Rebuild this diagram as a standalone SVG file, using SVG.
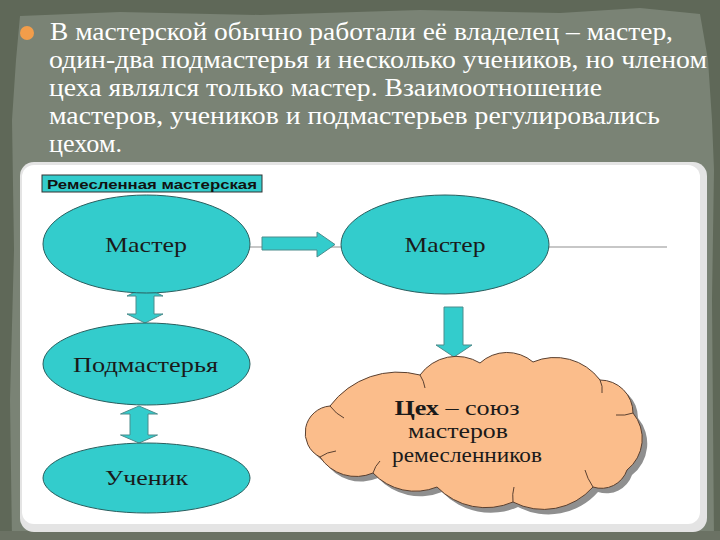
<svg xmlns="http://www.w3.org/2000/svg" width="720" height="540" viewBox="0 0 720 540">
<defs>
<style>
.lbl{font-family:"Liberation Serif","DejaVu Serif",serif;font-size:22px;fill:#1a1a1a;text-anchor:middle}
.cl{font-family:"Liberation Serif","DejaVu Serif",serif;font-size:22px;fill:#1a1a1a;text-anchor:middle}
.node{fill:#33cccc;stroke:#2a5e5e;stroke-width:1}
.arr{fill:#33cccc;stroke:#4d8c8c;stroke-width:1}
</style>
<path id="cloud" d="M330,406 A85,85 0 0 1 420,375 A45,45 0 0 1 480,363 A40,40 0 0 1 533,362 A56,56 0 0 1 600,380 A33,33 0 0 1 633,413 A40,40 0 0 1 627,470 A27,27 0 0 1 593,487 A66,66 0 0 1 513,502 A68,68 0 0 1 437,487 A58,58 0 0 1 373,473 A43,43 0 0 1 320,457 A27,27 0 0 1 330,406 Z"/>
</defs>
<!-- background -->
<rect x="0" y="0" width="720" height="540" fill="#5f6858"/>
<path d="M20,16 L120,12 L260,15 L420,10 L560,13 L640,8 L700,14 L708,60 L712,120 L714,170 L712,300 L714,540 L12,540 L10,400 L14,250 L12,120 L16,60 Z" fill="#7a8375"/>
<rect x="0" y="531" width="720" height="9" fill="#6b7264"/>
<!-- bullet text -->
<circle cx="27" cy="33" r="7" fill="#f29d4a"/>
<g font-family="Liberation Serif, Times New Roman, serif" font-size="25" fill="#ffffff">
<text x="50" y="40" textLength="623" lengthAdjust="spacingAndGlyphs">В мастерской обычно работали её владелец – мастер,</text>
<text x="49" y="68" textLength="658" lengthAdjust="spacingAndGlyphs">один-два подмастерья и несколько учеников, но членом</text>
<text x="49" y="96" textLength="553" lengthAdjust="spacingAndGlyphs">цеха являлся только мастер. Взаимоотношение</text>
<text x="49" y="124" textLength="611" lengthAdjust="spacingAndGlyphs">мастеров, учеников и подмастерьев регулировались</text>
<text x="49" y="152" textLength="73" lengthAdjust="spacingAndGlyphs">цехом.</text>
</g>
<!-- panel -->
<rect x="20" y="162" width="687" height="370" rx="14" fill="#e4e4e4"/>
<rect x="22" y="165" width="678" height="359" rx="12" fill="#ffffff"/>
<!-- title -->
<g id="title">
<rect x="42" y="175" width="220" height="17" fill="#33cccc" stroke="#333333" stroke-width="1"/>
<text x="152" y="189" font-family="Liberation Sans, Arial, sans-serif" font-size="13" font-weight="bold" fill="#111111" text-anchor="middle" textLength="210" lengthAdjust="spacingAndGlyphs">Ремесленная мастерская</text>
</g>
<!-- connectors -->
<g id="connectors">
<line x1="250" y1="247" x2="667" y2="247" stroke="#b5b5b5" stroke-width="1.5"/>
<polygon class="arr" points="262,237 317,237 317,232 335,244.5 317,257 317,250 262,250"/>
<polygon class="arr" points="145,287 163,296 154,296 154,314 163,314 145,323 127,314 136,314 136,296 127,296"/>
<polygon class="arr" points="139,406 157.5,414 148,414 148,435 157.5,435 139,443 120.5,435 130,435 130,414 120.5,414"/>
<polygon class="arr" points="444,307 463,307 463,345 472,345 454,357 436,345 444,345"/>
</g>
<!-- nodes -->
<g id="master1">
<ellipse class="node" cx="146.5" cy="244" rx="103.5" ry="49"/>
<text class="lbl" x="146" y="252" textLength="82" lengthAdjust="spacingAndGlyphs">Мастер</text>
</g>
<g id="podmaster">
<ellipse class="node" cx="146.5" cy="364" rx="103.5" ry="41"/>
<text class="lbl" x="145.5" y="372" textLength="145" lengthAdjust="spacingAndGlyphs">Подмастерья</text>
</g>
<g id="uchenik">
<ellipse class="node" cx="146.5" cy="478" rx="103.5" ry="35"/>
<text class="lbl" x="146.5" y="485" textLength="83" lengthAdjust="spacingAndGlyphs">Ученик</text>
</g>
<g id="master2">
<ellipse class="node" cx="445" cy="244.5" rx="104" ry="49.5"/>
<text class="lbl" x="445" y="252" textLength="81" lengthAdjust="spacingAndGlyphs">Мастер</text>
</g>
<g id="tsekh">
<use href="#cloud" transform="translate(5,5)" fill="#8f8f8f"/>
<use href="#cloud" fill="#fbbd8b" stroke="#5a4030" stroke-width="1"/>
<g fill="none" stroke="#5a4030" stroke-width="1">
<path d="M330,406 Q336,414 344,418"/>
<path d="M420,375 Q424,381 425,388"/>
<path d="M600,380 Q603,386 602,393"/>
<path d="M633,413 Q625,416 616,415"/>
<path d="M593,487 Q587,478 585,470"/>
<path d="M513,502 Q512,494 514,487"/>
<path d="M320,457 Q327,452 336,451"/>
<path d="M373,473 Q375,466 380,461"/>
</g>
<text class="cl" x="457" y="415" textLength="125" lengthAdjust="spacingAndGlyphs"><tspan font-weight="bold">Цех</tspan> – союз</text>
<text class="cl" x="458" y="438" textLength="100" lengthAdjust="spacingAndGlyphs">мастеров</text>
<text class="cl" x="467" y="462" textLength="150" lengthAdjust="spacingAndGlyphs">ремесленников</text>
</g>
</svg>
